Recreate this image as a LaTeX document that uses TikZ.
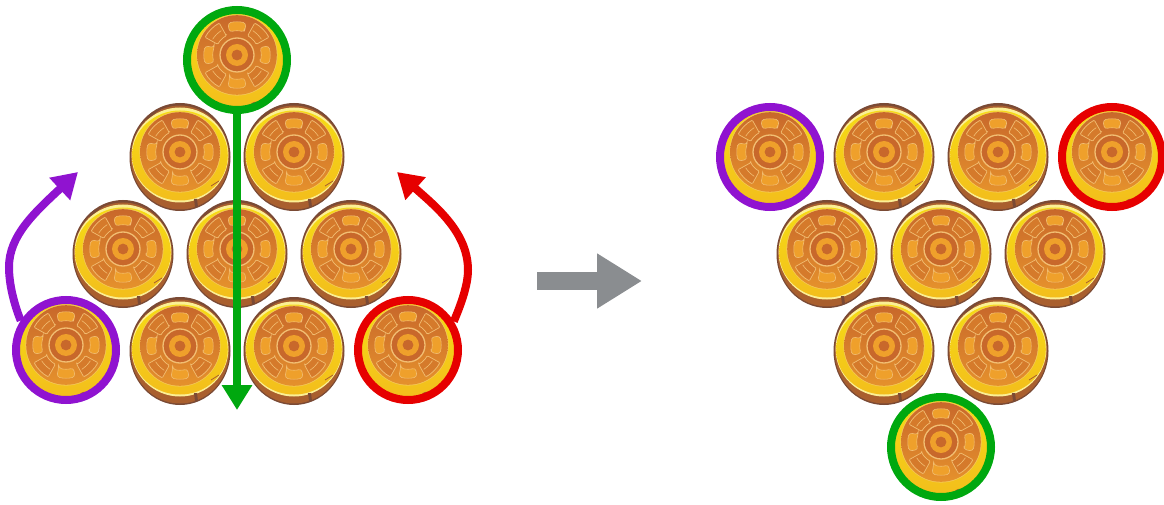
\documentclass[tikz,border=0pt]{standalone}
\usetikzlibrary{arrows.meta}
\definecolor{coinbrown}{HTML}{7A4A35}
\definecolor{coinband}{HTML}{A95F2E}
\definecolor{coinyellowA}{HTML}{F6DC14}
\definecolor{coinyellowB}{HTML}{F3BE1C}
\definecolor{facedark}{HTML}{C8682B}
\definecolor{faceorange}{HTML}{E5912C}
\definecolor{panelbright}{HTML}{EFA02B}
\definecolor{paleline}{HTML}{F2BE72}
\definecolor{ringgreen}{HTML}{00A80F}
\definecolor{ringpurple}{HTML}{9013D0}
\definecolor{ringred}{HTML}{E60000}
\definecolor{arrowgray}{HTML}{8A8D90}
\tikzset{
  x=1pt,y=1pt,
  coinface/.pic={
    \begin{scope}[shift={(0,5)}]
      \fill[paleline!70!coinyellowA] (0,0) circle (40.6);
      \shade[top color=facedark,bottom color=faceorange] (0,0) circle (39.8);
      \foreach \a in {45,135,225,315}{
        \filldraw[fill=faceorange!45!facedark,draw=paleline,line width=0.7,rounded corners=1]
          (\a-16:22) -- (\a-16:36.5) arc[start angle=\a-16,end angle=\a+16,radius=36.5]
          -- (\a+16:22) arc[start angle=\a+16,end angle=\a-16,radius=22] -- cycle;
        \draw[paleline,line width=0.6] (\a-12:29) arc[start angle=\a-12,end angle=\a+12,radius=29];
      }
      \foreach \a in {0,90,180,270}{
        \filldraw[fill=panelbright,draw=paleline,line width=0.6,rounded corners=3]
          (\a-18:24) -- (\a-16:33) arc[start angle=\a-16,end angle=\a+16,radius=33]
          -- (\a+18:24) arc[start angle=\a+18,end angle=\a-18,radius=24] -- cycle;
      }
      \filldraw[fill=facedark,draw=paleline,line width=1.3] (0,0) circle (17);
      \fill[panelbright] (0,0) circle (11);
      \fill[facedark] (0,0) circle (5.4);
    \end{scope}
  },
  coin/.pic={
    \fill[coinbrown] (0,0) ellipse[x radius=50.5,y radius=54];
    \fill[coinband] (0,-0.5) ellipse[x radius=49.2,y radius=52];
    \fill[white!55!coinyellowA] (0,2) ellipse[x radius=48.4,y radius=47.5];
    \shade[top color=coinyellowA,bottom color=coinyellowB] (0,1.5) ellipse[x radius=47.8,y radius=45];
    \fill[coinbrown] (-37,36) .. controls (-30,44) and (-24,47) .. (-17,49)
      .. controls (-26,44) and (-30,38) .. (-37,36) -- cycle;
    \fill[coinbrown] (14,-42) -- (15,-50) -- (18,-50) -- (17,-42) -- cycle;
    \draw[coinband,line width=0.8] (31,-29) -- (39,-24);
    \pic {coinface};
  },
  ringface/.pic={
    \shade[top color=coinyellowA,bottom color=coinyellowB] (0,0) circle (47);
    \pic {coinface};
    \fill[coinband] (13,-45.5) .. controls (15,-41) and (20,-41) .. (23,-43.5) -- cycle;
  },
  ring/.style={circle,draw=#1,line width=8,minimum size=100,inner sep=0},
  moveline/.style={draw=#1,line width=8,line cap=butt,-{Triangle[length=25pt,width=29pt]}},
  bigarrow/.style={draw=arrowgray,line width=18,-{Triangle[length=45pt,width=52pt]}}
}
\begin{document}
\begin{tikzpicture}
\fill[white] (0,0) rectangle (1164,504);
\useasboundingbox (0,0) rectangle (1164,504);
% left pile
\pic (a1) at (180,347) {coin};
\pic (a2) at (294,347) {coin};
\pic (b1) at (123,250) {coin};
\pic (b2) at (237,250) {coin};
\pic (b3) at (351,250) {coin};
\pic (c1) at (180,153) {coin};
\pic (c2) at (294,153) {coin};
% ringed coins, left
\pic (lg) at (237,444) {ringface};
\pic (lp) at (66,154) {ringface};
\pic (lr) at (408,154) {ringface};
\node[ring=ringgreen] (topring) at (237,444) {};
\node[ring=ringpurple] (purplering) at (66,154) {};
\node[ring=ringred] (redring) at (408,154) {};
% move arrows
\coordinate (greenend) at (237,94);
\coordinate (purpleend) at (78,332);
\coordinate (redend) at (397,332);
\coordinate (purplemid) at (9,237);
\coordinate (redmid) at (468,234);
\draw[moveline=ringgreen] (topring.south) -- (greenend);
\draw[moveline=ringpurple] (purplering.147) .. controls (14,200) and (9,220) .. (purplemid)
   .. controls (9,268) and (34,291) .. (purpleend);
\draw[moveline=ringred] (redring.32) .. controls (462,202) and (468,220) .. (redmid)
   .. controls (468,272) and (435,298) .. (redend);
% centre arrow
\coordinate (grayfrom) at (537,223);
\coordinate (grayto) at (642,223);
\draw[bigarrow] (grayfrom) -- (grayto);
% right pile
\pic (d1) at (884,347) {coin};
\pic (d2) at (998,347) {coin};
\pic (e1) at (827,250) {coin};
\pic (e2) at (941,250) {coin};
\pic (e3) at (1055,250) {coin};
\pic (f1) at (884,153) {coin};
\pic (f2) at (998,153) {coin};
\pic (rp) at (770,347) {ringface};
\pic (rr) at (1112,347) {ringface};
\pic (rg) at (941,57) {ringface};
\node[ring=ringpurple] (purplering2) at (770,347) {};
\node[ring=ringred] (redring2) at (1112,347) {};
\node[ring=ringgreen] (greenring2) at (941,57) {};
\end{tikzpicture}
\end{document}
